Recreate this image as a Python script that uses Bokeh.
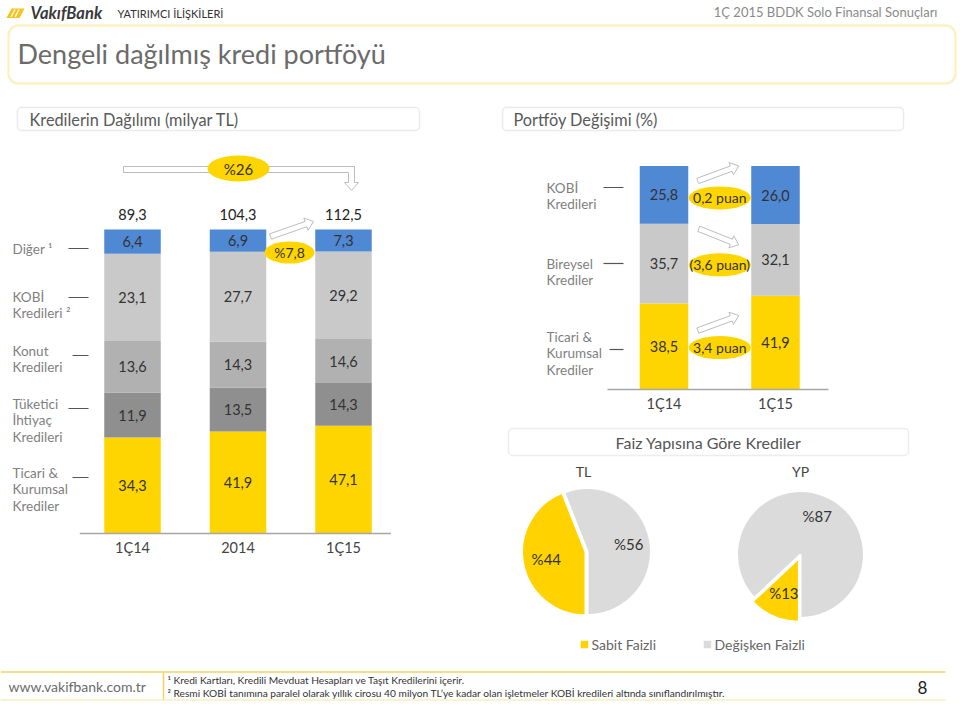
import math
import numpy as np
from bokeh.plotting import figure
from bokeh.models import Range1d, BoxAnnotation
from bokeh.embed import file_html
from bokeh.resources import INLINE
from bokeh.core.properties import value

# ---------------- data ----------------
dist_periods = ["1Ç14", "2014", "1Ç15"]
dist_ticari = [34.3, 41.9, 47.1]
dist_tuketici = [11.9, 13.5, 14.3]
dist_konut = [13.6, 14.3, 14.6]
dist_kobi = [23.1, 27.7, 29.2]
dist_diger = [6.4, 6.9, 7.3]
dist_growth_labels = ["%26", "%7,8"]
dist_series_labels = [["Ticari &", "Kurumsal", "Krediler"],
                      ["Tüketici", "İhtiyaç", "Kredileri"],
                      ["Konut", "Kredileri"],
                      ["KOBİ", "Kredileri ²"],
                      ["Diğer ¹"]]

port_periods = ["1Ç14", "1Ç15"]
port_ticari = [38.5, 41.9]
port_bireysel = [35.7, 32.1]
port_kobi = [25.8, 26.0]
port_series_labels = [["Ticari &", "Kurumsal", "Krediler"],
                      ["Bireysel", "Krediler"],
                      ["KOBİ", "Kredileri"]]

pie_groups = ["TL", "YP"]
pie_sabit = [44, 13]
pie_degisken = [56, 87]
pie_legend = ["Sabit Faizli", "Değişken Faizli"]

footnotes = ["¹ Kredi Kartları, Kredili Mevduat Hesapları ve Taşıt Kredilerini içerir.",
             "² Resmi KOBİ tanımına paralel olarak yıllık cirosu 40 milyon TL’ye kadar olan işletmeler KOBİ kredileri altında sınıflandırılmıştır."]

# ---------------- style ----------------
FONT = "Lato"
YELLOW = "#FFD500"
BLUE = "#4F88D3"
G1 = "#C9C9C9"
G2 = "#B1B1B1"
G3 = "#8F8F8F"
PIE_GRAY = "#DBDBDB"
PIE_YELLOW = "#FFD200"
LABEL_C = "#7F7F7F"
VAL_C = "#333333"
ARROW_C = "#BDBDBD"

W, H = 960, 704


def Y(ry):
    return H - ry


def lin_range(lo, hi, pa, va, pb, vb):
    k = (vb - va) / (pb - pa)
    return Range1d(start=va + (lo - pa) * k, end=va + (hi - pa) * k)


def fmt(v):
    return f"{v:.1f}".replace(".", ",")


p = figure(width=W, height=H, x_range=Range1d(0, W), y_range=Range1d(0, H),
           output_backend="svg", toolbar_location=None, min_border=0,
           x_axis_type=None, y_axis_type=None, outline_line_color=None,
           background_fill_color="white", border_fill_color="white")
p.grid.visible = False


def txt(x, ry, s, size, color, align="left", style="normal", font=FONT, baseline="middle"):
    p.text(x=[x], y=[Y(ry)], text=[s], text_font=value(font), text_font_size=f"{size}px",
           text_color=color, text_align=align, text_baseline=baseline, text_font_style=style)


def arrow_poly(x0, y0, x1, y1, hw=2.8, hh=6.5, hl=8.0):
    dx, dy = x1 - x0, y1 - y0
    L = math.hypot(dx, dy)
    ux, uy = dx / L, dy / L
    nx, ny = -uy, ux
    bx, by = x1 - ux * hl, y1 - uy * hl
    pts = [(x0 + nx * hw, y0 + ny * hw), (bx + nx * hw, by + ny * hw), (bx + nx * hh, by + ny * hh),
           (x1, y1), (bx - nx * hh, by - ny * hh), (bx - nx * hw, by - ny * hw), (x0 - nx * hw, y0 - ny * hw)]
    p.patch([q[0] for q in pts], [Y(q[1]) for q in pts], fill_color="white", line_color=ARROW_C, line_width=1)


# ---------------- header ----------------
p.patch([6, 11, 24, 19], [Y(17.5), Y(8), Y(8), Y(17.5)], fill_color="#F6C21C", line_color=None)
p.segment(x0=[10.5, 14.5], y0=[Y(16.5), Y(16.5)], x1=[14.5, 18.5], y1=[Y(9), Y(9)], line_color="white", line_width=1.3)
txt(30, 12.5, "VakıfBank", 16.5, "#3A3A3A", style="bold italic")
txt(117, 13, "YATIRIMCI İLİŞKİLERİ", 11, "#333333")
txt(937, 11.5, "1Ç 2015 BDDK Solo Finansal Sonuçları", 13, "#8A8A8A", align="right")

p.add_layout(BoxAnnotation(left=8, right=955, top=Y(25), bottom=Y(83), fill_color=None,
                           line_color="#F6D23E", line_width=2.5, border_radius=10))
txt(17, 53, "Dengeli dağılmış kredi portföyü", 27, "#6B6B6B")

p.add_layout(BoxAnnotation(left=17, right=419, top=Y(107), bottom=Y(130), fill_color=None,
                           line_color="#BDBDBD", line_width=1.5, border_radius=4))
txt(29, 118.5, "Kredilerin Dağılımı (milyar TL)", 16.3, "#595959")
p.add_layout(BoxAnnotation(left=502, right=903, top=Y(107), bottom=Y(130), fill_color=None,
                           line_color="#BDBDBD", line_width=1.5, border_radius=4))
txt(513, 118.5, "Portföy Değişimi (%)", 16.3, "#595959")

# ---------------- left chart: 100% stacked, axis starts at 10% ----------------
L_X0, L_DX, L_BASE, L_TOP, L_MIN = 132, 105.5, 533, 229, 10
k_l = (L_BASE - L_TOP) / (100 - L_MIN)
p.extra_x_ranges["lx"] = lin_range(0, W, L_X0, 0, L_X0 + 2 * L_DX, 2)
p.extra_y_ranges["ly"] = lin_range(0, H, Y(L_BASE), L_MIN, Y(L_TOP), 100)

stack_l = [dist_ticari, dist_tuketici, dist_konut, dist_kobi, dist_diger]
colors_l = [YELLOW, G3, G2, G1, BLUE]
xs_l = np.arange(len(dist_periods))
totals_l = np.sum(np.array(stack_l), axis=0)
cum = np.zeros(len(dist_periods))
for vals, col in zip(stack_l, colors_l):
    sh = np.array(vals) / totals_l * 100
    bot = np.maximum(cum, L_MIN)
    top = cum + sh
    p.vbar(x=xs_l, bottom=bot, top=top, width=56.5 / L_DX, fill_color=col, line_color=None,
           x_range_name="lx", y_range_name="ly")
    p.text(x=xs_l, y=(bot + top) / 2, text=[fmt(v) for v in vals], text_font=value(FONT),
           text_font_size="14.5px", text_color=VAL_C, text_align="center", text_baseline="middle",
           x_range_name="lx", y_range_name="ly")
    cum = top

p.text(x=xs_l, y=[100 + 15 / k_l] * 3, text=[fmt(t) for t in totals_l], text_font=value(FONT),
       text_font_size="14.5px", text_color="#222222", text_align="center", text_baseline="middle",
       x_range_name="lx", y_range_name="ly")
p.segment(x0=[-0.5], x1=[2.45], y0=[L_MIN], y1=[L_MIN], line_color="#A6A6A6", line_width=1.5,
          x_range_name="lx", y_range_name="ly")
p.text(x=xs_l, y=[L_MIN - 14 / k_l] * 3, text=dist_periods, text_font=value(FONT),
       text_font_size="14.5px", text_color="#444444", text_align="center", text_baseline="middle",
       x_range_name="lx", y_range_name="ly")

# series labels (left)
l_label_first = [472, 403, 350, 296, 248]
l_dash = [(72, 477), (68, 408), (72, 355), (68, 297), (68, 248)]
for lines, fy, (dx0, dy) in zip(dist_series_labels, l_label_first, l_dash):
    for i, s in enumerate(lines):
        txt(12, fy + i * 16.5, s, 13.5, LABEL_C)
    p.segment(x0=[dx0], x1=[88], y0=[Y(dy)], y1=[Y(dy)], line_color="#555555", line_width=1.2)

# growth markers
p.patch([123, 354, 354, 358, 351, 344, 348, 348, 123],
        [Y(166), Y(166), Y(182), Y(182), Y(190), Y(182), Y(182), Y(172), Y(172)],
        fill_color="white", line_color=ARROW_C, line_width=1)
p.ellipse(x=[238], y=[Y(168)], width=62, height=26, fill_color=YELLOW, line_color=None)
txt(238, 168, dist_growth_labels[0], 15, VAL_C, align="center")
arrow_poly(270, 236, 313, 221)
p.ellipse(x=[289], y=[Y(252)], width=50, height=22, fill_color=YELLOW, line_color=None)
txt(289, 252, dist_growth_labels[1], 14, VAL_C, align="center")

# ---------------- right chart: portfolio shares ----------------
R_X0, R_DX, R_BASE, R_TOP = 663.5, 111.5, 389, 165.5
k_r = (R_BASE - R_TOP) / 100
p.extra_x_ranges["rx"] = lin_range(0, W, R_X0, 0, R_X0 + R_DX, 1)
p.extra_y_ranges["ry"] = lin_range(0, H, Y(R_BASE), 0, Y(R_TOP), 100)

stack_r = [port_ticari, port_bireysel, port_kobi]
colors_r = [YELLOW, G1, BLUE]
xs_r = np.arange(len(port_periods))
cum = np.zeros(len(port_periods))
mids_r = []
for vals, col in zip(stack_r, colors_r):
    bot = cum.copy()
    top = cum + np.array(vals)
    p.vbar(x=xs_r, bottom=bot, top=top, width=48.5 / R_DX, fill_color=col, line_color=None,
           x_range_name="rx", y_range_name="ry")
    mid = (bot + top) / 2
    mids_r.append(mid)
    p.text(x=xs_r, y=mid, text=[fmt(v) for v in vals], text_font=value(FONT),
           text_font_size="14.5px", text_color=VAL_C, text_align="center", text_baseline="middle",
           x_range_name="rx", y_range_name="ry")
    cum = top

p.segment(x0=[-0.507], x1=[1.475], y0=[0], y1=[0], line_color="#A6A6A6", line_width=1.5,
          x_range_name="rx", y_range_name="ry")
p.text(x=xs_r, y=[-14 / k_r] * 2, text=port_periods, text_font=value(FONT),
       text_font_size="14.5px", text_color="#444444", text_align="center", text_baseline="middle",
       x_range_name="rx", y_range_name="ry")

# change ovals + arrows
for vals, mid in zip(stack_r, mids_r):
    d = round(vals[1] - vals[0], 1)
    lab = f"{fmt(abs(d))} puan"
    if d < 0:
        lab = f"({lab})"
    ey_val = mid.mean() - 3 / k_r
    ex_px = R_X0 + 0.5 * R_DX
    ey_px = R_BASE - ey_val * k_r
    if d >= 0:
        arrow_poly(ex_px - 22, ey_px - 17, ex_px + 19, ey_px - 32)
    else:
        arrow_poly(ex_px - 21, ey_px - 36, ex_px + 19, ey_px - 20)
    p.ellipse(x=[0.5], y=[ey_val], width=62, height=23, width_units="screen", height_units="screen",
              fill_color=YELLOW, line_color=None, x_range_name="rx", y_range_name="ry")
    p.text(x=[0.5], y=[ey_val], text=[lab], text_font=value(FONT), text_font_size="14px",
           text_color=VAL_C, text_align="center", text_baseline="middle",
           x_range_name="rx", y_range_name="ry")

r_label_first = [336, 263, 187]
r_dash = [(609, 349), (603, 263), (603, 187)]
for lines, fy, (dx0, dy) in zip(port_series_labels, r_label_first, r_dash):
    for i, s in enumerate(lines):
        txt(546, fy + i * 16.8, s, 13.5, LABEL_C)
    p.segment(x0=[dx0], x1=[623], y0=[Y(dy)], y1=[Y(dy)], line_color="#555555", line_width=1.2)

# ---------------- pies ----------------
p.add_layout(BoxAnnotation(left=508, right=908, top=Y(428), bottom=Y(455), fill_color=None,
                           line_color="#C4C4C4", line_width=1.5, border_radius=4))
txt(708, 441.5, "Faiz Yapısına Göre Krediler", 16, "#555555", align="center")

pie_centers = [(587, 551), (800, 554)]
pie_title_x = [583, 800]
pie_r = 63.5
explode = [2.0, 4.0]
for gi, (cx, cy) in enumerate(pie_centers):
    txt(pie_title_x[gi], 471, pie_groups[gi], 14, "#444444", align="center")
    vals = np.array([pie_sabit[gi], pie_degisken[gi]], dtype=float)
    fr = vals / vals.sum()
    edges = np.radians(270 - np.concatenate([[0], np.cumsum(fr)]) * 360)
    cols = [PIE_YELLOW, PIE_GRAY]
    for j in range(2):
        start, end = float(edges[j + 1]), float(edges[j])
        mid = (start + end) / 2
        off = explode[gi] if j == 0 else 0
        ox, oy = off * math.cos(mid), off * math.sin(mid)
        p.wedge(x=[cx + ox], y=[Y(cy) + oy], radius=pie_r, start_angle=start, end_angle=end,
                fill_color=cols[j], line_color="white", line_width=2)
        lr = pie_r * 0.66
        p.text(x=[cx + lr * math.cos(mid)], y=[Y(cy) + lr * math.sin(mid)], text=[f"%{int(vals[j])}"],
               text_font=value(FONT), text_font_size="15px", text_color=VAL_C,
               text_align="center", text_baseline="middle")

leg_x = [584, 707]
for lx, col, lab in zip(leg_x, [PIE_YELLOW, PIE_GRAY], pie_legend):
    p.rect(x=[lx], y=[Y(644)], width=7.5, height=7.5, fill_color=col, line_color=None)
    txt(lx + 7, 644, lab, 14, "#666666")

# ---------------- footer ----------------
p.segment(x0=[0], x1=[945], y0=[Y(671.5)], y1=[Y(671.5)], line_color="#F3D35B", line_width=1.3)
p.segment(x0=[0], x1=[945], y0=[Y(699.5)], y1=[Y(699.5)], line_color="#F8E6A2", line_width=1.2)
p.segment(x0=[163], x1=[163], y0=[Y(672)], y1=[Y(699)], line_color="#F3D35B", line_width=1.5)
txt(8, 686, "www.vakifbank.com.tr", 14, "#6B6B6B")
txt(167, 679, footnotes[0], 10.2, "#333333")
txt(167, 692, footnotes[1], 10.2, "#333333")
txt(922, 687, "8", 17, "#222222", align="center")

open("out.html", "w").write(file_html(p, INLINE))
